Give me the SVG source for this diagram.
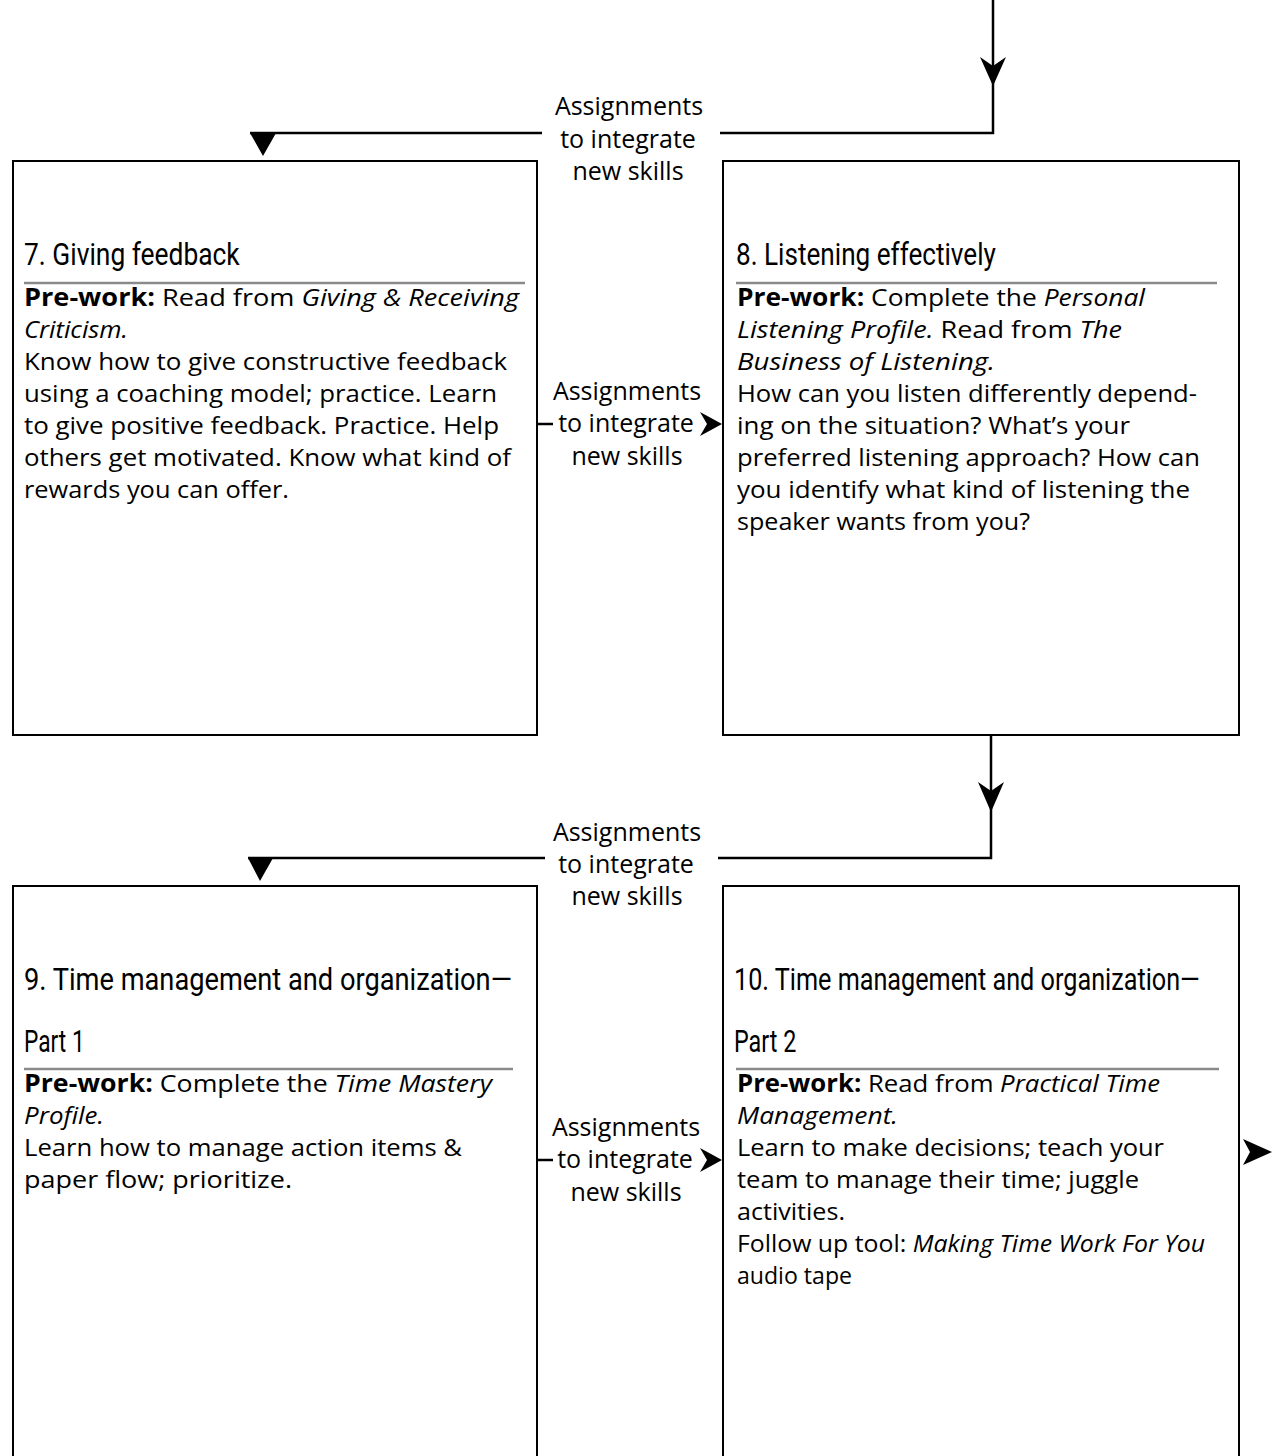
<svg xmlns="http://www.w3.org/2000/svg" width="1272" height="1456" viewBox="0 0 1272 1456">
  <style>
    .box { fill: #fff; stroke: #000; stroke-width: 2; }
    .rule { stroke: #8a8a8a; stroke-width: 2.5; }
    .title { font-family: Roboto, "Liberation Sans", sans-serif; font-weight: 400; font-size: 31px; fill: #000; }
    .body { font-family: "Open Sans", "Noto Sans", sans-serif; font-size: 24.5px; fill: #000; }
    .lbl { font-family: "Open Sans", "Noto Sans", sans-serif; font-size: 25px; fill: #000; text-anchor: middle; }
    .b { font-weight: bold; }
    .i { font-style: italic; }
    .wire { fill: none; stroke: #000; stroke-width: 2.5; }
    .head { fill: #000; stroke: none; }
  </style>

  <rect width="1272" height="1456" fill="#fff"/>

  <!-- connectors -->
  <g id="connectors">
    <!-- incoming line at top right, turning left over session 7 -->
    <path class="wire" d="M993,0 V133 H720"/>
    <path class="wire" d="M542,133 H250"/>
    <polygon class="head" points="993,86 980,57 993,66 1006,57"/>
    <polygon class="head" points="250,133 276,133 263,156"/>

    <!-- session 7 to session 8 -->
    <path class="wire" d="M537,424 H553"/>
    <polygon class="head" points="722,424 700,412 707,424 700,436"/>

    <!-- session 8 down, turning left over session 9 -->
    <path class="wire" d="M991,735 V858 H718"/>
    <path class="wire" d="M545,858 H248"/>
    <polygon class="head" points="991,812 978,782 991,791 1004,782"/>
    <polygon class="head" points="248,858 273,858 260,881"/>

    <!-- session 9 to session 10 -->
    <path class="wire" d="M537,1160 H553"/>
    <polygon class="head" points="722,1160 700,1148 707,1160 700,1172"/>

    <!-- onward from session 10 -->
    <polygon class="head" points="1272,1152 1243,1139 1250,1152 1243,1165"/>

    <!-- connector labels -->
    <text class="lbl" x="629" y="115">Assignments</text>
    <text class="lbl" x="628" y="148">to integrate</text>
    <text class="lbl" x="628" y="180">new skills</text>

    <text class="lbl" x="627" y="400">Assignments</text>
    <text class="lbl" x="626" y="432">to integrate</text>
    <text class="lbl" x="627" y="465">new skills</text>

    <text class="lbl" x="627" y="841">Assignments</text>
    <text class="lbl" x="626" y="873">to integrate</text>
    <text class="lbl" x="627" y="905">new skills</text>

    <text class="lbl" x="626" y="1136">Assignments</text>
    <text class="lbl" x="625" y="1168">to integrate</text>
    <text class="lbl" x="626" y="1201">new skills</text>
  </g>

  <!-- session 7 -->
  <g id="session7">
    <rect class="box" x="13" y="161" width="524" height="574"/>
    <text class="title" transform="translate(24,265) scale(0.82,1)" textLength="263" lengthAdjust="spacingAndGlyphs">7. Giving feedback</text>
    <line class="rule" x1="24" y1="283" x2="525" y2="283"/>
    <text class="body" x="24" y="306" textLength="495" lengthAdjust="spacingAndGlyphs"><tspan class="b">Pre-work:</tspan> Read from <tspan class="i">Giving &amp; Receiving</tspan></text>
    <text class="body i" x="24" y="338" textLength="104" lengthAdjust="spacingAndGlyphs">Criticism.</text>
    <text class="body" x="24" y="370" textLength="483" lengthAdjust="spacingAndGlyphs">Know how to give constructive feedback</text>
    <text class="body" x="24" y="402" textLength="473" lengthAdjust="spacingAndGlyphs">using a coaching model; practice. Learn</text>
    <text class="body" x="24" y="434" textLength="475" lengthAdjust="spacingAndGlyphs">to give positive feedback. Practice. Help</text>
    <text class="body" x="24" y="466" textLength="487" lengthAdjust="spacingAndGlyphs">others get motivated. Know what kind of</text>
    <text class="body" x="24" y="498" textLength="265" lengthAdjust="spacingAndGlyphs">rewards you can offer.</text>
  </g>

  <!-- session 8 -->
  <g id="session8">
    <rect class="box" x="723" y="161" width="516" height="574"/>
    <text class="title" transform="translate(736,265) scale(0.82,1)" textLength="317" lengthAdjust="spacingAndGlyphs">8. Listening effectively</text>
    <line class="rule" x1="736" y1="283" x2="1217" y2="283"/>
    <text class="body" x="737" y="306" textLength="408" lengthAdjust="spacingAndGlyphs"><tspan class="b">Pre-work:</tspan> Complete the <tspan class="i">Personal</tspan></text>
    <text class="body" x="737" y="338" textLength="385" lengthAdjust="spacingAndGlyphs"><tspan class="i">Listening Profile.</tspan> Read from <tspan class="i">The</tspan></text>
    <text class="body i" x="737" y="370" textLength="258" lengthAdjust="spacingAndGlyphs">Business of Listening.</text>
    <text class="body" x="737" y="402" textLength="460" lengthAdjust="spacingAndGlyphs">How can you listen differently depend-</text>
    <text class="body" x="737" y="434" textLength="393" lengthAdjust="spacingAndGlyphs">ing on the situation? What’s your</text>
    <text class="body" x="737" y="466" textLength="463" lengthAdjust="spacingAndGlyphs">preferred listening approach? How can</text>
    <text class="body" x="737" y="498" textLength="453" lengthAdjust="spacingAndGlyphs">you identify what kind of listening the</text>
    <text class="body" x="737" y="530" textLength="293" lengthAdjust="spacingAndGlyphs">speaker wants from you?</text>
  </g>

  <!-- session 9 -->
  <g id="session9">
    <rect class="box" x="13" y="886" width="524" height="600"/>
    <text class="title" transform="translate(24,990) scale(0.82,1)" textLength="595" lengthAdjust="spacingAndGlyphs">9. Time management and organization—</text>
    <text class="title" transform="translate(24,1052) scale(0.82,1)" textLength="74" lengthAdjust="spacingAndGlyphs">Part 1</text>
    <line class="rule" x1="24" y1="1069" x2="513" y2="1069"/>
    <text class="body" x="24" y="1092" textLength="468" lengthAdjust="spacingAndGlyphs"><tspan class="b">Pre-work:</tspan> Complete the <tspan class="i">Time Mastery</tspan></text>
    <text class="body i" x="24" y="1124" textLength="80" lengthAdjust="spacingAndGlyphs">Profile.</text>
    <text class="body" x="24" y="1156" textLength="438" lengthAdjust="spacingAndGlyphs">Learn how to manage action items &amp;</text>
    <text class="body" x="24" y="1188" textLength="268" lengthAdjust="spacingAndGlyphs">paper flow; prioritize.</text>
  </g>

  <!-- session 10 -->
  <g id="session10">
    <rect class="box" x="723" y="886" width="516" height="600"/>
    <text class="title" transform="translate(734,990) scale(0.82,1)" textLength="568" lengthAdjust="spacingAndGlyphs">10. Time management and organization—</text>
    <text class="title" transform="translate(734,1052) scale(0.82,1)" textLength="76" lengthAdjust="spacingAndGlyphs">Part 2</text>
    <line class="rule" x1="736" y1="1069" x2="1219" y2="1069"/>
    <text class="body" x="737" y="1092" textLength="423" lengthAdjust="spacingAndGlyphs"><tspan class="b">Pre-work:</tspan> Read from <tspan class="i">Practical Time</tspan></text>
    <text class="body i" x="737" y="1124" textLength="161" lengthAdjust="spacingAndGlyphs">Management.</text>
    <text class="body" x="737" y="1156" textLength="427" lengthAdjust="spacingAndGlyphs">Learn to make decisions; teach your</text>
    <text class="body" x="737" y="1188" textLength="402" lengthAdjust="spacingAndGlyphs">team to manage their time; juggle</text>
    <text class="body" x="737" y="1220" textLength="108" lengthAdjust="spacingAndGlyphs">activities.</text>
    <text class="body" x="737" y="1252" textLength="468" lengthAdjust="spacingAndGlyphs">Follow up tool: <tspan class="i">Making Time Work For You</tspan></text>
    <text class="body" x="737" y="1284" textLength="115" lengthAdjust="spacingAndGlyphs">audio tape</text>
  </g>
</svg>
